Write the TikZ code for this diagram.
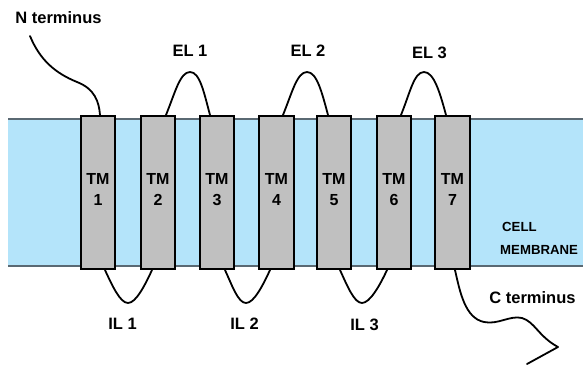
\documentclass[tikz,border=0pt]{standalone}
\usepackage{fontspec}
\setmainfont{Liberation Sans}[BoldFont={Liberation Sans Bold}]
\newfontfamily\labelfont{Liberation Sans Bold}
\usetikzlibrary{calc}
\definecolor{membrane}{RGB}{180,228,250}
\definecolor{membraneedge}{RGB}{90,105,115}
\definecolor{helixfill}{RGB}{192,192,192}

\begin{document}
\begin{tikzpicture}[x=1pt,y=-1pt,
  helix/.style={draw=black, fill=helixfill, line width=1.9pt,
    minimum width=34.2pt, minimum height=153.2pt, inner sep=0pt},
  helixlabel/.style={align=center, inner sep=0pt,
    font=\labelfont\fontsize{16}{21}\selectfont},
  loopname/.style={inner sep=0pt, font=\labelfont\fontsize{16.5}{19}\selectfont},
  cellname/.style={inner sep=0pt, anchor=west, font=\labelfont\fontsize{13.2}{16}\selectfont},
  chain/.style={draw=black, line width=1.8pt, line cap=round, line join=round}]

\useasboundingbox (0,0) rectangle (583,365);
\fill[white] (0,0) rectangle (583,365);

% lipid bilayer
\fill[membrane] (8,119) rectangle (583,266);
\draw[membraneedge, line width=1.1pt] (8,119) -- (583,119);
\draw[membraneedge, line width=1.1pt] (8,266) -- (583,266);

% N-terminal tail
\coordinate (nstart) at (30,36);
\node[helix] (tm1) at (98,192.5) {};
\draw[chain] (nstart) .. controls (40,60) and (55,73) .. (77,82)
  .. controls (95,89) and (99,102) .. ([xshift=2pt]tm1.north);

% transmembrane helices
\node[helix] (tm2) at (158,192.5) {};
\node[helix] (tm3) at (217,192.5) {};
\node[helix] (tm4) at (276.5,192.5) {};
\node[helix] (tm5) at (334,192.5) {};
\node[helix] (tm6) at (394,192.5) {};
\node[helix] (tm7) at (452.5,192.5) {};

\foreach \i in {1,...,7}
  \node[helixlabel] (tm\i l) at ([yshift=3pt]tm\i.center) {TM\\\i};

% extracellular loops
\draw[chain] ([xshift=8pt]tm2.north) .. controls +(9,-22) and +(-10,0) .. (190,72)
  .. controls +(10,0) and +(-6,-22) .. ([xshift=-7pt]tm3.north);
\draw[chain] ([xshift=6.5pt]tm4.north) .. controls +(9,-22) and +(-10,0) .. (307,72)
  .. controls +(10,0) and +(-6,-22) .. ([xshift=-6pt]tm5.north);
\draw[chain] ([xshift=7pt]tm6.north) .. controls +(9,-22) and +(-10,0) .. (424,72)
  .. controls +(10,0) and +(-6,-22) .. ([xshift=-6.5pt]tm7.north);

% intracellular loops
\draw[chain] ([xshift=7pt]tm1.south) .. controls +(7,15) and +(-8,0) .. (128,303)
  .. controls +(8,0) and +(-7,15) .. ([xshift=-6pt]tm2.south);
\draw[chain] ([xshift=8pt]tm3.south) .. controls +(7,15) and +(-8,0) .. (246,303)
  .. controls +(8,0) and +(-7,15) .. ([xshift=-6.5pt]tm4.south);
\draw[chain] ([xshift=6pt]tm5.south) .. controls +(7,15) and +(-8,0) .. (362,303)
  .. controls +(8,0) and +(-7,15) .. ([xshift=-7pt]tm6.south);

% C-terminal tail
\coordinate (cend) at (527,364);
\draw[chain] ([xshift=2.5pt]tm7.south) .. controls (460,292) and (465,318) .. (484,322)
  .. controls (498,325) and (510,315) .. (522,318)
  .. controls (535,322) and (538,336) .. (558,347) -- (cend);

% labels
\node[loopname] (nlab) at (58.5,17.5) {N terminus};
\node[loopname] (el1) at (190,51) {EL 1};
\node[loopname] (el2) at (308,51) {EL 2};
\node[loopname] (el3) at (429.5,53) {EL 3};
\node[loopname] (il1) at (122.5,323.5) {IL 1};
\node[loopname] (il2) at (244.5,323.5) {IL 2};
\node[loopname] (il3) at (364.5,325) {IL 3};
\node[loopname] (clab) at (532.5,297.5) {C terminus};
\node[cellname] (cell) at (502,227) {CELL};
\node[cellname] (memb) at (500,250) {MEMBRANE};
\end{tikzpicture}
\end{document}
